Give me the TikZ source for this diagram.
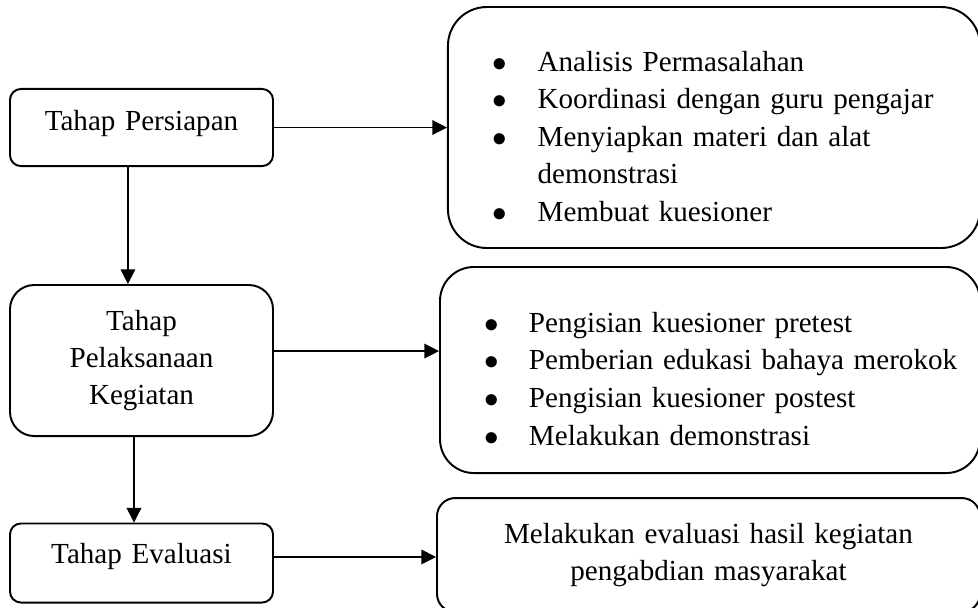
\documentclass[tikz,border=0pt]{standalone}
\usepackage{fontspec}
\setmainfont{Liberation Serif}
\usepackage{enumitem}
\usetikzlibrary{arrows.meta}

\begin{document}
\begin{tikzpicture}[x=0.4125pt,y=-0.4125pt,
    stage/.style={draw,line width=0.8pt,align=center,text width=100pt,minimum width=108.5pt,font=\fontsize{12}{15.3}\selectfont},
    list/.style={draw,line width=0.8pt,inner xsep=0pt,align=left,font=\fontsize{12}{15.5}\selectfont},
    arr/.style={-{Triangle[length=6pt,width=6pt]},line width=0.5pt}]
    \useasboundingbox (0,0) rectangle (978,607);
    \node[stage,rounded corners=4.5pt,minimum height=31.8pt,text depth=5.9pt] (persiapan) at (141.5,127.5) {Tahap Persiapan};
    \node[stage,rounded corners=10pt,minimum height=62.3pt] (pelaksanaan) at (141.5,360.5) {Tahap\\Pelaksanaan\\Kegiatan};
    \node[stage,rounded corners=4.5pt,minimum height=32.6pt,text depth=7.6pt] (evaluasi) at (141.5,563) {Tahap Evaluasi};
    \node[list,rounded corners=16pt,text width=219.5pt,minimum height=99.4pt] (persiapanlist) at (714,127.5) {%
        \begin{itemize}[label=$\bullet$,leftmargin=37pt,labelsep=12.5pt,nosep]
        \item Analisis Permasalahan
        \item Koordinasi dengan guru pengajar
        \item Menyiapkan materi dan alat\newline demonstrasi
        \item Membuat kuesioner
        \end{itemize}};
    \node[list,rounded corners=14pt,text width=222.75pt,minimum height=85pt] (pelaksanaanlist) at (710,370) {%
        \begin{itemize}[label=$\bullet$,leftmargin=36.7pt,labelsep=12.5pt,nosep]
        \item Pengisian kuesioner pretest
        \item Pemberian edukasi bahaya merokok
        \item Pengisian kuesioner postest
        \item Melakukan demonstrasi
        \end{itemize}};
    \node[list,align=center,rounded corners=7.5pt,text width=224pt,minimum height=47pt] (evaluasilist) at (708.5,555) {Melakukan evaluasi hasil kegiatan\\pengabdian masyarakat};
    \draw[arr] (persiapan) -- (persiapanlist);
    \draw[arr] ([yshift=3.9pt]pelaksanaan.east) -- ([yshift=3.9pt]pelaksanaan.east -| pelaksanaanlist.west);
    \draw[arr] ([yshift=2.5pt]evaluasi.east) -- ([yshift=2.5pt]evaluasi.east -| evaluasilist.west);
    \draw[arr] ([xshift=-5.6pt]persiapan.south) -- ([xshift=-5.6pt]persiapan.south |- pelaksanaan.north);
    \draw[arr] ([xshift=-3.1pt]pelaksanaan.south) -- ([xshift=-3.1pt]pelaksanaan.south |- evaluasi.north);
\end{tikzpicture}
\end{document}
